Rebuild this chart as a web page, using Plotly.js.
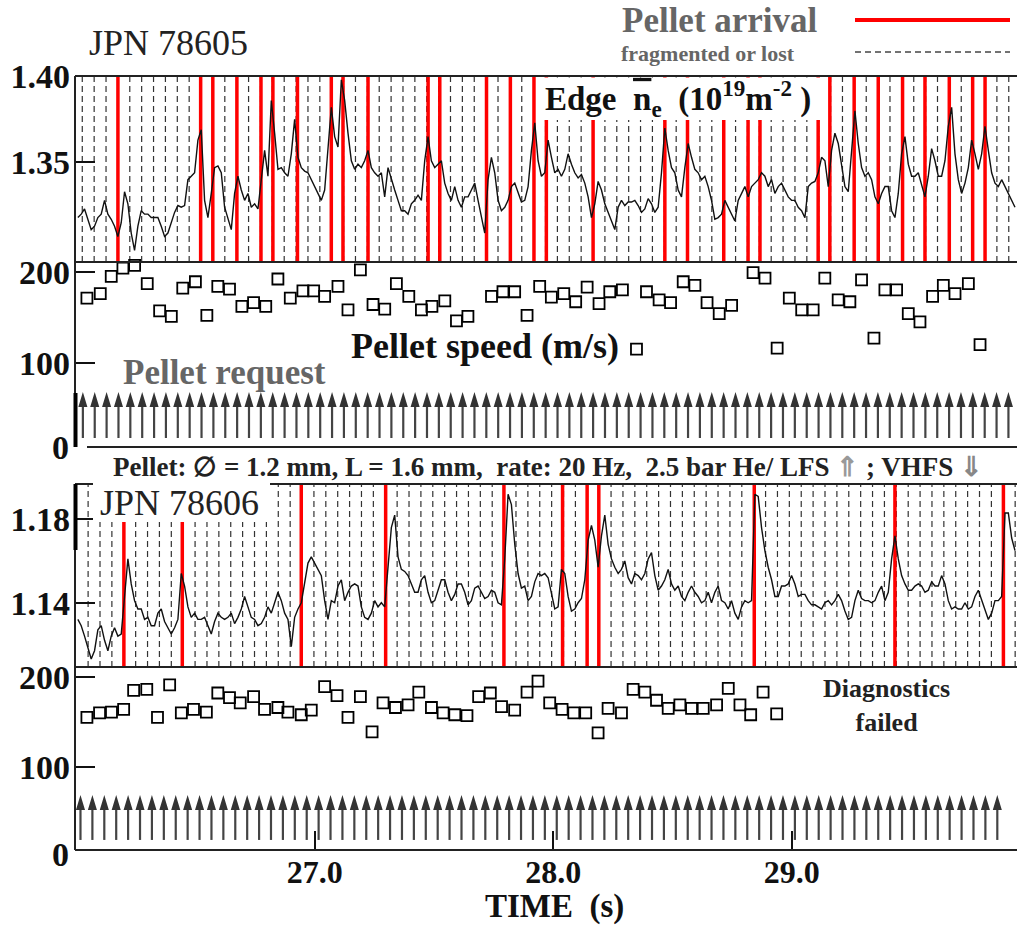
<!DOCTYPE html>
<html><head><meta charset="utf-8">
<script src="https://cdn.plot.ly/plotly-3.0.1.min.js"></script>
<style>html,body{margin:0;padding:0;background:#fff}#chart{width:1017px;height:927px}</style>
</head><body><div id="chart"></div>
<script>
// ---------------- DATA ----------------
// Edge line-integrated density, JPN 78605 (10^19 m^-2), uniformly sampled
const neT0 = 26.006;      // s, first sample
const neDt = 0.013988;    // s, sampling interval
const ne78605 = [
1.318,1.320,1.323,1.317,1.311,1.313,1.318,1.320,1.328,1.320,
1.317,1.313,1.307,1.315,1.333,1.326,1.309,1.299,1.313,1.322,
1.320,1.320,1.318,1.318,1.318,1.313,1.307,1.309,1.315,1.321,
1.325,1.324,1.325,1.340,1.342,1.344,1.363,1.369,1.328,1.318,
1.332,1.347,1.348,1.344,1.324,1.317,1.311,1.332,1.342,1.334,
1.328,1.332,1.324,1.326,1.323,1.340,1.357,1.342,1.386,1.367,
1.346,1.347,1.344,1.342,1.355,1.375,1.353,1.347,1.345,1.344,
1.340,1.336,1.332,1.328,1.334,1.359,1.382,1.365,1.359,1.398,
1.386,1.367,1.351,1.346,1.349,1.347,1.351,1.357,1.347,1.344,
1.342,1.344,1.330,1.347,1.340,1.334,1.328,1.322,1.322,1.320,
1.326,1.328,1.331,1.328,1.351,1.365,1.351,1.347,1.349,1.351,
1.338,1.332,1.328,1.336,1.328,1.324,1.330,1.330,1.334,1.338,
1.328,1.318,1.309,1.340,1.353,1.344,1.328,1.322,1.324,1.328,
1.336,1.338,1.332,
1.327,1.328,1.336,1.357,1.373,1.351,1.342,1.344,1.363,1.353,
1.344,1.346,1.342,1.346,1.355,1.349,1.344,1.341,1.343,1.338,
1.330,1.318,1.326,1.339,1.334,1.326,1.321,1.316,1.311,1.324,
1.328,1.325,1.327,1.327,1.328,1.325,1.321,1.323,1.329,1.326,
1.321,1.324,1.344,1.370,1.357,1.347,1.344,1.334,1.330,1.347,
1.361,1.353,1.346,1.344,1.340,1.342,1.336,1.328,1.317,1.318,
1.320,1.328,1.324,1.320,1.316,1.328,1.332,1.336,1.330,1.336,
1.338,1.340,1.344,1.342,1.336,1.340,1.332,1.336,1.338,1.334,
1.330,1.328,1.328,1.324,1.322,1.318,1.336,1.338,1.339,1.344,
1.353,1.351,1.336,1.357,1.367,1.361,1.347,1.336,1.333,1.359,
1.380,1.361,1.347,1.342,1.344,1.340,1.330,1.326,1.332,1.336,
1.336,1.322,1.318,1.332,1.355,1.365,1.349,1.342,1.342,1.344,
1.337,1.330,1.342,1.358,1.351,1.342,1.342,1.351,1.371,1.382,
1.355,1.340,1.332,1.338,1.347,1.363,1.355,1.346,1.355,1.371,
1.357,1.344,1.338,1.336,1.340,1.336,1.332,1.328,1.324
];
// Edge density, JPN 78606, same time base
const ne78606 = [
1.132,1.129,1.124,1.119,1.113,1.117,1.127,1.129,1.122,1.117,
1.124,1.128,1.124,1.125,1.145,1.161,1.149,1.141,1.137,1.137,
1.132,1.133,1.129,1.129,1.135,1.137,1.131,1.128,1.125,1.128,
1.132,1.154,1.148,1.138,1.133,1.135,1.132,1.132,1.133,1.129,
1.125,1.131,1.135,1.133,1.132,1.133,1.135,1.130,1.133,1.137,
1.143,1.138,1.133,1.132,1.129,1.130,1.133,1.138,1.135,1.140,
1.145,1.141,1.135,1.132,1.119,1.133,1.137,1.140,1.149,1.159,
1.162,1.159,1.156,1.153,1.141,1.132,1.141,1.140,1.148,1.151,
1.141,1.145,1.148,1.149,1.148,1.138,1.133,1.132,1.135,1.141,
1.138,1.140,1.138,1.156,1.176,1.182,1.162,1.156,1.155,1.153,
1.149,1.145,1.145,1.151,1.153,1.145,1.140,1.141,1.146,1.151,
1.151,1.145,1.141,1.144,1.149,1.149,1.145,1.139,1.141,1.147,
1.148,1.145,1.142,1.143,1.146,1.145,1.140,1.139,1.161,1.192,
1.187,1.168,1.154,
1.147,1.148,1.141,1.143,1.150,1.154,1.153,1.154,1.152,1.145,
1.137,1.138,1.156,1.154,1.143,1.136,1.137,1.140,1.142,1.151,
1.170,1.177,1.170,1.157,1.172,1.182,1.168,1.161,1.157,1.154,
1.156,1.160,1.152,1.149,1.154,1.153,1.151,1.154,1.161,1.164,
1.153,1.146,1.148,1.151,1.156,1.149,1.146,1.148,1.143,1.141,
1.145,1.148,1.145,1.143,1.140,1.141,1.145,1.140,1.145,1.148,
1.141,1.140,1.137,1.141,1.135,1.132,1.138,1.141,1.140,1.141,
1.192,1.191,1.176,1.165,1.157,1.151,1.143,1.143,1.148,1.148,
1.149,1.153,1.149,1.143,1.144,1.144,1.141,1.139,1.139,1.138,
1.137,1.140,1.141,1.139,1.141,1.144,1.141,1.136,1.132,1.133,
1.141,1.146,1.142,1.141,1.141,1.140,1.141,1.145,1.148,1.141,
1.145,1.161,1.172,1.161,1.153,1.149,1.146,1.146,1.148,1.149,
1.148,1.145,1.146,1.150,1.148,1.148,1.153,1.149,1.141,1.137,
1.138,1.137,1.137,1.140,1.137,1.138,1.143,1.146,1.141,1.137,
1.132,1.135,1.141,1.141,1.143,1.183,1.183,1.171,1.165
];

// Pellet arrival (red) times
const arrived78605 = [26.174,26.521,26.572,26.673,26.774,26.824,26.927,27.069,27.118,27.223,27.475,27.524,27.720,27.820,27.919,27.971,28.167,28.468,28.563,28.715,28.817,28.867,29.111,29.160,29.262,29.363,29.465,29.559,29.661,29.759,29.811];
const arrived78606 = [26.199,26.444,26.943,27.297,27.793,28.039,28.142,28.191,28.843,29.433,29.888];

// Expected arrival slots (20 Hz train, dashed = fragmented or lost)
const slots78605 = {start: 26.0245, period: 0.04982, count: 79};
const slots78606 = {start: 26.049,  period: 0.04985, count: 79};
// Pellet requests (arrows)
const req78605 = {start: 26.027, period: 0.04977, count: 79};
const req78606 = {start: 26.017, period: 0.04994, count: 78};

// Pellet speeds (m/s)
const speedT78605 = [26.044,26.100,26.146,26.195,26.244,26.297,26.349,26.398,26.446,26.499,26.547,26.593,26.642,26.694,26.743,26.794,26.845,26.897,26.950,26.995,27.041,27.097,27.139,27.191,27.244,27.293,27.342,27.394,27.447,27.491,27.545,27.594,27.642,27.741,27.789,27.838,27.890,27.943,27.992,28.044,28.094,28.142,28.192,28.237,28.290,28.349,28.391,28.444,28.492,28.545,28.594,28.645,28.696,28.748,28.838,28.888,28.939,28.990,29.042,29.090,29.139,29.195,29.244,29.293,29.345,29.391,29.440,29.489,29.538,29.591,29.636,29.685,29.741,29.790];
const speed78605 = [171,176,195,204,207,187,157,151,182,189,152,184,181,162,166,162,192,171,179,179,173,184,158,202,164,159,187,173,158,162,168,146,151,173,178,178,152,184,172,176,167,183,165,178,180,115,178,169,166,189,185,166,154,163,199,193,116,171,158,158,193,169,167,191,127,180,180,154,145,173,185,176,187,120];
const speedT78606 = [26.044,26.097,26.147,26.198,26.240,26.295,26.340,26.391,26.440,26.491,26.545,26.593,26.642,26.687,26.743,26.789,26.845,26.887,26.943,26.985,27.041,27.093,27.139,27.191,27.240,27.286,27.338,27.391,27.436,27.489,27.538,27.587,27.638,27.687,27.736,27.783,27.838,27.890,27.936,27.985,28.037,28.086,28.136,28.188,28.230,28.286,28.335,28.384,28.433,28.482,28.531,28.580,28.629,28.685,28.734,28.783,28.828,28.880,28.937];
const speed78606 = [155,160,161,164,185,186,155,191,160,164,161,182,177,171,178,164,166,161,158,163,189,179,155,178,139,171,166,169,183,166,160,158,157,178,182,167,163,183,195,171,164,160,160,138,165,160,186,183,174,165,169,165,165,169,187,169,158,183,159];

// Axis ticks
const xTickVals = [27, 28, 29];
const xTickText = ['27.0', '28.0', '29.0'];
const ne1Ticks = [1.35, 1.40], ne1TickText = ['1.35', '1.40'];
const ne2Ticks = [1.14, 1.18], ne2TickText = ['1.14', '1.18'];
const spTicks = [100, 200], spTickText = ['100', '200'];

// ---------------- LAYOUT HELPERS ----------------
const W = 1017, H = 927, ML = 75;
const px = x => (x - ML) / (W - ML);
const py = y => 1 - y / H;
const FONT = 'Liberation Serif, Times New Roman, serif';
const XR = [25.994, 29.945];
const Y1 = [1.2922, 1.4002], Y2 = [7.4, 210.7], Y3 = [1.1092, 1.1969], Y4 = [8.7, 210.7];

function timesOf(s) { const a = []; for (let k = 0; k < s.count; k++) a.push(s.start + k * s.period); return a; }
function vlines(ts, y0, y1) { const x = [], y = []; ts.forEach(t => { x.push(t, t, null); y.push(y0, y1, null); }); return {x, y}; }
function heads(ts, base, apex, hw) { const x = [], y = []; ts.forEach(t => { x.push(t - hw, t + hw, t, t - hw, null); y.push(base, base, apex, base, null); }); return {x, y}; }
const neTime = ne78605.map((_, i) => neT0 + i * neDt);

const traces = [];
function addV(ts, yr, ya, line) { const v = vlines(ts, yr[0], yr[1]); traces.push({x: v.x, y: v.y, xaxis: 'x', yaxis: ya, mode: 'lines', line, hoverinfo: 'skip', showlegend: false}); }

// Panel 1
addV(timesOf(slots78605), Y1, 'y', {color: '#333', width: 1.2, dash: '6px,4px'});
addV(arrived78605, Y1, 'y', {color: '#ff0000', width: 3.5});
traces.push({x: neTime, y: ne78605, xaxis: 'x', yaxis: 'y', mode: 'lines', line: {color: '#111', width: 1.4}, showlegend: false});
// Panel 2
traces.push({x: speedT78605, y: speed78605, xaxis: 'x', yaxis: 'y2', mode: 'markers', cliponaxis: false,
  marker: {symbol: 'square-open', size: 11, color: '#000', line: {width: 1.8, color: '#000'}}, showlegend: false});
const r1 = timesOf(req78605);
addV(r1, [17.3, 53], 'y2', {color: '#444', width: 2.2});
let h = heads(r1, 51.3, 67.8, 0.019);
traces.push({x: h.x, y: h.y, xaxis: 'x', yaxis: 'y2', mode: 'lines', fill: 'toself', fillcolor: '#333', line: {width: 0, color: '#333'}, hoverinfo: 'skip', showlegend: false});
// Panel 3
addV(timesOf(slots78606), Y3, 'y3', {color: '#333', width: 1.2, dash: '6px,4px'});
addV(arrived78606, Y3, 'y3', {color: '#ff0000', width: 3.5});
traces.push({x: neTime, y: ne78606, xaxis: 'x', yaxis: 'y3', mode: 'lines', line: {color: '#111', width: 1.4}, showlegend: false});
// Panel 4
traces.push({x: speedT78606, y: speed78606, xaxis: 'x', yaxis: 'y4', mode: 'markers', cliponaxis: false,
  marker: {symbol: 'square-open', size: 11, color: '#000', line: {width: 1.8, color: '#000'}}, showlegend: false});
const r2 = timesOf(req78606);
addV(r2, [19.8, 54.5], 'y4', {color: '#444', width: 2.2});
h = heads(r2, 52.9, 69.4, 0.019);
traces.push({x: h.x, y: h.y, xaxis: 'x', yaxis: 'y4', mode: 'lines', fill: 'toself', fillcolor: '#333', line: {width: 0, color: '#333'}, hoverinfo: 'skip', showlegend: false});

const tickFont = {family: FONT, size: 34, color: '#111', weight: 'bold'};
function yax(dom, range, tv, tt) {
  return {domain: dom, range, tickvals: tv, ticktext: tt, ticks: 'inside', ticklen: 20, tickwidth: 2, tickcolor: '#111',
    showgrid: false, zeroline: false, showline: false, anchor: 'x', tickfont: tickFont, ticklabelstandoff: 4, fixedrange: true};
}
const line = (x0, y0, x1, y1, w, c, dash) => ({type: 'line', xref: 'paper', yref: 'paper', x0: px(x0), x1: px(x1), y0: py(y0), y1: py(y1), line: {color: c || '#222', width: w || 2, dash: dash || 'solid'}});
const rect = (x0, y0, x1, y1) => ({type: 'rect', xref: 'paper', yref: 'paper', x0: px(x0), x1: px(x1), y0: py(y0), y1: py(y1), fillcolor: '#fff', line: {width: 0}});

const shapes = [
  line(75, 76, 1017, 76), line(75, 262, 1017, 262), line(87, 447, 1017, 447),
  line(75, 484, 1017, 484), line(75, 667, 1017, 667), line(75, 850, 1017, 850),
  line(75, 76, 75, 447), line(75, 484, 75, 850),
  line(75.5, 393, 75.5, 447, 4, '#000'), line(75.5, 484, 75.5, 550, 4, '#000'),
  rect(540, 77.5, 825, 120), rect(93, 478, 270, 522),
  line(855, 20, 1010, 20, 4, '#ff0000'), line(855, 52, 1010, 52, 1.3, '#444', '6px,4px')
];

const ann = (x, y, text, size, color, xa, extra) => Object.assign({xref: 'paper', yref: 'paper', x: px(x), y: py(y), text, showarrow: false,
  xanchor: xa || 'left', yanchor: 'middle', font: {family: FONT, size, color: color || '#111'}}, extra || {});
const annotations = [
  ann(87, 43, 'JPN 78605', 36, '#222'),
  ann(98, 503, 'JPN 78606', 36, '#222'),
  ann(720, 21, '<b>Pellet arrival</b>', 35, '#666', 'center'),
  ann(708, 54, '<b>fragmented or lost</b>', 22, '#666', 'center'),
  ann(543, 99, '<b>Edge  <span style="text-decoration:overline">n</span><sub>e</sub>  (10<sup>19</sup>m<sup>-2</sup> )</b>', 33, '#111'),
  ann(349, 346, '<b>Pellet speed (m/s)</b>', 36, '#111'),
  ann(121, 372, '<b>Pellet request</b>', 35, '#666'),
  ann(111, 467, '<b>Pellet: \u2205 = 1.2 mm, L = 1.6 mm,  rate: 20 Hz,  2.5 bar He/ LFS <span style="color:#999">\u21D1</span> ; VHFS <span style="color:#888">\u21D3</span></b>', 27, '#222'),
  ann(886, 705, '<b>Diagnostics<br>failed</b>', 26, '#222', 'center'),
  ann(554, 906, '<b>TIME  (s)</b>', 33, '#111', 'center'),
  ann(71, 448, '<b>0</b>', 34, '#111', 'right'),
  ann(71, 854, '<b>0</b>', 34, '#111', 'right')
];

const layout = {
  width: W, height: H, margin: {l: ML, r: 0, t: 0, b: 0}, paper_bgcolor: '#fff', plot_bgcolor: 'rgba(0,0,0,0)',
  showlegend: false,
  xaxis: {domain: [0, 1], range: XR, anchor: 'y4', tickvals: xTickVals, ticktext: xTickText, ticks: 'inside', ticklen: 19, tickwidth: 2,
    tickcolor: '#111', showgrid: false, zeroline: false, showline: false, tickfont: Object.assign({}, tickFont, {size: 32}), ticklabelstandoff: 0, fixedrange: true},
  yaxis: yax([py(262), py(76)], Y1, ne1Ticks, ne1TickText),
  yaxis2: yax([py(447), py(262)], Y2, spTicks, spTickText),
  yaxis3: yax([py(667), py(484)], Y3, ne2Ticks, ne2TickText),
  yaxis4: yax([py(850), py(667)], Y4, spTicks, spTickText),
  shapes, annotations
};
Plotly.newPlot('chart', traces, layout, {displayModeBar: false, staticPlot: true});
</script></body></html>
